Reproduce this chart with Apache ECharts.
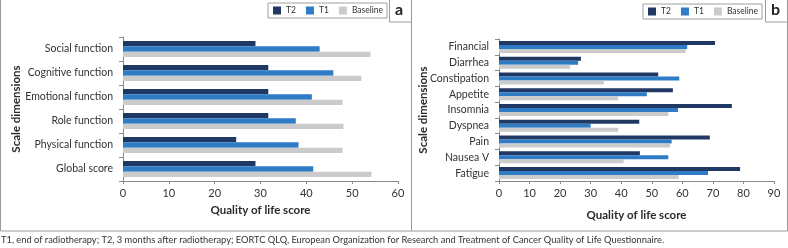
<!DOCTYPE html>
<html>
<head>
<meta charset="utf-8">
<script src="https://cdn.jsdelivr.net/npm/echarts@6/dist/echarts.min.js"></script>
<style>
  html, body { margin: 0; padding: 0; background: #fff; }
  #chart { width: 788px; height: 248px; }
</style>
</head>
<body>
<div id="chart"></div>
<script>
// panel a (bottom to top, as the axis draws them)
const catsA = ["Global score", "Physical function", "Role function", "Emotional function", "Cognitive function", "Social function"];
const t2A = [28.9, 24.7, 31.7, 31.7, 31.7, 28.9];
const t1A = [41.5, 38.3, 37.7, 41.2, 45.9, 42.9];
const baseA = [54.2, 47.9, 48.1, 47.9, 52.0, 54.0];

// panel b
const catsB = ["Fatigue", "Nausea V", "Pain", "Dyspnea", "Insomnia", "Appetite", "Constipation", "Diarrhea", "Financial"];
const t2B = [78.9, 46.1, 69.0, 45.9, 76.2, 56.9, 52.1, 26.8, 70.7];
const t1B = [68.4, 55.4, 56.5, 30.0, 58.6, 48.4, 59.0, 25.9, 61.6];
const baseB = [58.8, 40.8, 56.0, 39.0, 55.4, 39.0, 34.3, 23.3, 61.1];

const footnote = "T1, end of radiotherapy; T2, 3 months after radiotherapy; EORTC QLQ, European Organization for Research and Treatment of Cancer Quality of Life Questionnaire.";

const FONT = "Lato";
const colors = { T2: "#1f3864", T1: "#2e7bc6", Baseline: "#cbcbcb" };
const axisColor = "#8a8a8a";
const textColor = "#333";

const chart = echarts.init(document.getElementById("chart"));

const valueAxis = (grid, max, gap) => ({
  type: "value", gridIndex: grid, min: 0, max: max, interval: 10,
  name: "Quality of life score", nameLocation: "middle", nameGap: gap,
  nameTextStyle: { fontFamily: FONT, fontWeight: "bold", fontSize: 11.5, color: "#2a2a2a" },
  axisLine: { show: true, lineStyle: { color: axisColor } },
  axisTick: { show: true, length: 3, lineStyle: { color: axisColor } },
  axisLabel: { fontFamily: FONT, fontSize: 11, color: textColor, margin: 7 },
  splitLine: { show: false }
});

const catAxis = (grid, data, gap) => ({
  type: "category", gridIndex: grid, data: data,
  name: "Scale dimensions", nameLocation: "middle", nameGap: gap,
  nameMoveOverlap: false,
  nameTextStyle: { fontFamily: FONT, fontWeight: "bold", fontSize: 11.5, color: "#2a2a2a" },
  axisLine: { show: true, lineStyle: { color: axisColor } },
  axisTick: { show: true, length: 4, lineStyle: { color: axisColor } },
  axisLabel: { fontFamily: FONT, fontSize: 10.5, color: textColor, margin: 10 }
});

const bar = (name, grid, data, gap) => ({
  name: name, type: "bar", xAxisIndex: grid, yAxisIndex: grid, data: data,
  barGap: "0%", barCategoryGap: gap, itemStyle: { color: colors[name] }
});

const legendBox = (right, top) => ({
  data: ["T2", "T1", "Baseline"], right: right, top: top, orient: "horizontal",
  itemWidth: 8, itemHeight: 8, itemGap: 10, icon: "rect",
  borderColor: "#a0a0a0", borderWidth: 1, padding: [3, 4, 3, 5],
  textStyle: { fontFamily: FONT, fontSize: 8.5, color: textColor }
});

const option = {
  animation: false,
  grid: [
    { left: 123, right: 390, top: 37, bottom: 67 },
    { left: 499, right: 14, top: 39, bottom: 67 }
  ],
  legend: [legendBox(401, 3), legendBox(26, 4)],
  xAxis: [valueAxis(0, 60, 22), valueAxis(1, 90, 28)],
  yAxis: [catAxis(0, catsA, 101), catAxis(1, catsB, 70)],
  series: [
    bar("T2", 0, t2A, "33%"),
    bar("T1", 0, t1A, "33%"),
    bar("Baseline", 0, baseA, "33%"),
    bar("T2", 1, t2B, "24%"),
    bar("T1", 1, t1B, "24%"),
    bar("Baseline", 1, baseB, "24%")
  ],
  graphic: [
    { type: "rect", shape: { x: 0.5, y: -1, width: 787, height: 232 }, style: { fill: "none", stroke: "#9a9a9a", lineWidth: 1 }, z: -1 },
    { type: "line", shape: { x1: 411.5, y1: 0, x2: 411.5, y2: 231 }, style: { stroke: "#9a9a9a", lineWidth: 1 } },
    { type: "rect", shape: { x: 389.5, y: -1, width: 22, height: 23 }, style: { fill: "#fff", stroke: "#9a9a9a", lineWidth: 1 } },
    { type: "text", left: 395, top: 2, style: { text: "a", font: "bold 16px " + FONT, fill: "#222" } },
    { type: "rect", shape: { x: 765.5, y: -1, width: 22, height: 23 }, style: { fill: "#fff", stroke: "#9a9a9a", lineWidth: 1 } },
    { type: "text", left: 771, top: 2, style: { text: "b", font: "bold 16px " + FONT, fill: "#222" } },
    { type: "text", left: 1, top: 235, style: { text: footnote, font: "9.3px " + FONT, fill: "#333" } }
  ]
};

chart.setOption(option);
</script>
</body>
</html>
